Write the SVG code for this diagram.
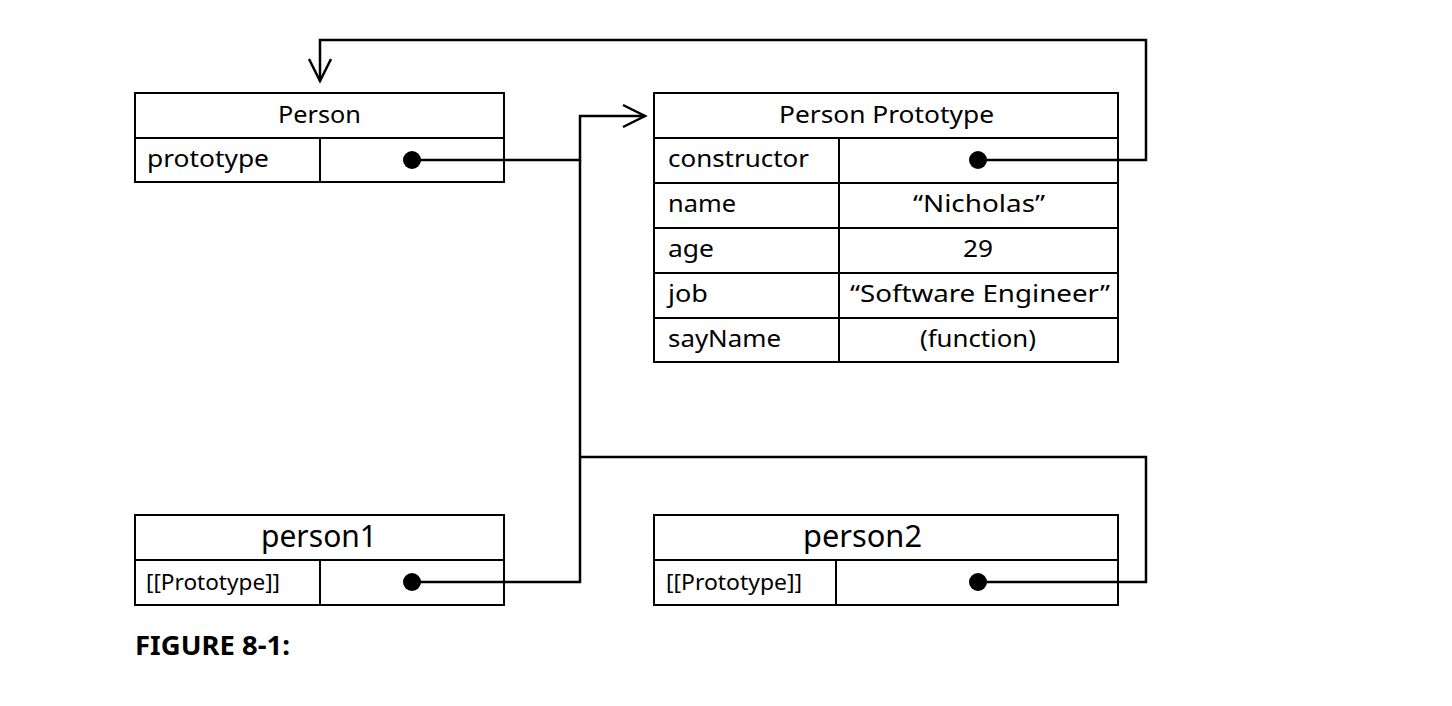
<svg xmlns="http://www.w3.org/2000/svg" width="1452" height="706" viewBox="0 0 1452 706">
<style>
.box{fill:#fff;stroke:#000;stroke-width:2}
.ln{fill:none;stroke:#000;stroke-width:2}
.t{font-family:"Noto Sans",Lato,sans-serif;font-size:24px;fill:#000}
.h{font-family:"Noto Sans",Lato,sans-serif;font-size:24px;fill:#000;text-anchor:middle}
.h2{font-family:"Noto Sans",Lato,sans-serif;font-size:30px;fill:#000;text-anchor:middle}
.s{font-family:"Noto Sans",Lato,sans-serif;font-size:21px;fill:#000}
.c{font-family:"Noto Sans",Lato,sans-serif;font-size:24px;fill:#000;text-anchor:middle}
.dot{fill:#000}
.wire{fill:none;stroke:#000;stroke-width:2.5}
</style>
<defs>
<marker id="arr" markerWidth="30" markerHeight="30" refX="26" refY="12" orient="auto" markerUnits="userSpaceOnUse" viewBox="0 0 30 24">
<path d="M4 1 L26 12 L4 23" fill="none" stroke="#000" stroke-width="2.5"/>
</marker>
</defs>
<rect width="1452" height="706" fill="#fff"/>
<g id="person">
<rect class="box" x="135" y="93" width="369" height="89"/>
<line class="ln" x1="135" y1="138" x2="504" y2="138"/>
<line class="ln" x1="320" y1="138" x2="320" y2="182"/>
<text class="h" x="319.5" y="123" textLength="83" lengthAdjust="spacingAndGlyphs">Person</text>
<text class="t" x="147" y="167" textLength="122" lengthAdjust="spacingAndGlyphs">prototype</text>
<circle class="dot" cx="412" cy="160" r="9"/>
</g>
<g id="person-prototype">
<rect class="box" x="654" y="93" width="464" height="269"/>
<line class="ln" x1="654" y1="138" x2="1118" y2="138"/>
<line class="ln" x1="654" y1="183" x2="1118" y2="183"/>
<line class="ln" x1="654" y1="228" x2="1118" y2="228"/>
<line class="ln" x1="654" y1="273" x2="1118" y2="273"/>
<line class="ln" x1="654" y1="318" x2="1118" y2="318"/>
<line class="ln" x1="839" y1="138" x2="839" y2="362"/>
<text class="h" x="886.5" y="123" textLength="215" lengthAdjust="spacingAndGlyphs">Person Prototype</text>
<text class="t" x="668" y="167" textLength="141" lengthAdjust="spacingAndGlyphs">constructor</text>
<text class="t" x="668" y="212" textLength="68" lengthAdjust="spacingAndGlyphs">name</text>
<text class="t" x="668" y="257" textLength="46" lengthAdjust="spacingAndGlyphs">age</text>
<text class="t" x="668" y="302" textLength="40" lengthAdjust="spacingAndGlyphs">job</text>
<text class="t" x="668" y="347" textLength="113" lengthAdjust="spacingAndGlyphs">sayName</text>
<text class="c" x="979" y="212" textLength="132" lengthAdjust="spacingAndGlyphs">“Nicholas”</text>
<text class="c" x="978" y="257" textLength="30" lengthAdjust="spacingAndGlyphs">29</text>
<text class="c" x="980" y="302" textLength="260" lengthAdjust="spacingAndGlyphs">“Software Engineer”</text>
<text class="c" x="978" y="347" textLength="116" lengthAdjust="spacingAndGlyphs">(function)</text>
<circle class="dot" cx="978" cy="160" r="9"/>
</g>
<g id="person1">
<rect class="box" x="135" y="515" width="369" height="90"/>
<line class="ln" x1="135" y1="560" x2="504" y2="560"/>
<line class="ln" x1="320" y1="560" x2="320" y2="605"/>
<text class="h2" x="319" y="547" textLength="116" lengthAdjust="spacingAndGlyphs">person1</text>
<text class="s" x="146" y="590" textLength="134" lengthAdjust="spacingAndGlyphs">[[Prototype]]</text>
<circle class="dot" cx="412" cy="582" r="9"/>
</g>
<g id="person2">
<rect class="box" x="654" y="515" width="464" height="90"/>
<line class="ln" x1="654" y1="560" x2="1118" y2="560"/>
<line class="ln" x1="836" y1="560" x2="836" y2="605"/>
<text class="h2" x="862.5" y="547" textLength="119" lengthAdjust="spacingAndGlyphs">person2</text>
<text class="s" x="666" y="590" textLength="136" lengthAdjust="spacingAndGlyphs">[[Prototype]]</text>
<circle class="dot" cx="978" cy="582" r="9"/>
</g>
<g id="connectors">
<path class="wire" d="M412 160 H580 V116 H645" marker-end="url(#arr)"/>
<path class="wire" d="M412 582 H580 V160"/>
<path class="wire" d="M580 457 H1146 V582 H978"/>
<path class="wire" d="M978 160 H1146 V40 H320 V81" marker-end="url(#arr)"/>
</g>
<text x="135" y="655" font-family="'Noto Sans',Lato,sans-serif" font-weight="bold" font-size="26" fill="#000" textLength="155" lengthAdjust="spacingAndGlyphs">FIGURE 8-1:</text>
</svg>
